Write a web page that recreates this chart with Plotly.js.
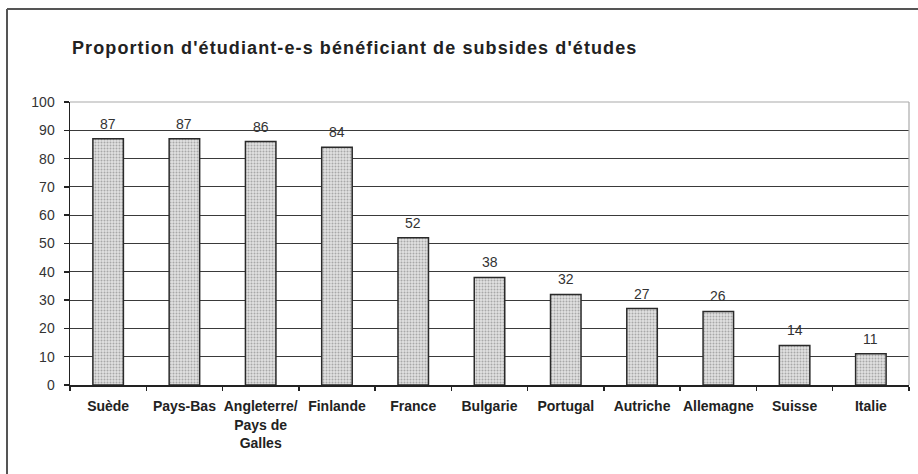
<!DOCTYPE html>
<html>
<head>
<meta charset="utf-8">
<script src="https://cdn.plot.ly/plotly-3.0.1.min.js"></script>
<style>
html,body{margin:0;padding:0;background:#fff;}
#chart{width:918px;height:474px;}
#chart .gtitle{letter-spacing:1.1px;}
</style>
</head>
<body>
<div id="chart"></div>
<script>
const categories = ["Suède","Pays-Bas","Angleterre/<br>Pays de<br>Galles","Finlande","France","Bulgarie","Portugal","Autriche","Allemagne","Suisse","Italie"];
const values = [87,87,86,84,52,38,32,27,26,14,11];
const yTicks = [0,10,20,30,40,50,60,70,80,90,100];
const titleText = "Proportion d'étudiant-e-s bénéficiant de subsides d'études";

const FONT = "Liberation Sans, Arial, sans-serif";

const trace = {
  type: "bar",
  x: categories,
  y: values,
  marker: {
    color: "#cdcdcd",
    line: {color: "#2a2a2a", width: 1.5},
    pattern: {shape: ".", bgcolor: "#e2e2e2", fgcolor: "#a8a8a8", size: 3, solidity: 0.35}
  },
  hoverinfo: "none"
};

const annotations = categories.map((c, i) => ({
  x: c, y: values[i], xref: "x", yref: "y",
  text: String(values[i]),
  showarrow: false,
  yanchor: "bottom",
  yshift: 5,
  font: {family: FONT, size: 14, color: "#333"}
}));

const layout = {
  width: 918, height: 474,
  margin: {l: 70, r: 9, t: 102, b: 89, pad: 0},
  paper_bgcolor: "#fff",
  plot_bgcolor: "#fff",
  showlegend: false,
  bargap: 0.6,
  title: {
    text: titleText,
    x: 72/918, xanchor: "left", xref: "container",
    y: 1 - 48/474, yanchor: "middle", yref: "container",
    font: {family: FONT, size: 18, color: "#222", weight: "bold"}
  },
  xaxis: {
    type: "category",
    showgrid: false,
    showline: true, linecolor: "#222", linewidth: 1.5,
    ticks: "outside", tickson: "boundaries", ticklen: 4, tickcolor: "#222", tickwidth: 1.5,
    tickfont: {family: FONT, size: 14, color: "#222", weight: "bold"},
    ticklabelstandoff: 8,
    tickangle: 0,
    fixedrange: true
  },
  yaxis: {
    range: [0, 100],
    tickvals: yTicks,
    ticktext: yTicks.map(String),
    showgrid: true, gridcolor: "#3a3a3a", gridwidth: 1,
    zeroline: false,
    showline: true, linecolor: "#222", linewidth: 1.5,
    ticks: "outside", ticklen: 5, tickcolor: "#222", tickwidth: 1.5,
    tickfont: {family: FONT, size: 14, color: "#333"},
    ticklabelstandoff: 6,
    fixedrange: true
  },
  annotations: annotations,
  shapes: [
    {type: "line", xref: "paper", yref: "paper", x0: 0, x1: 1, y0: 1, y1: 1,
     line: {color: "#aaa", width: 1.2}, layer: "above"},
    {type: "line", xref: "paper", yref: "paper", x0: 1, x1: 1, y0: 0, y1: 1,
     line: {color: "#aaa", width: 1.2}, layer: "above"},
    {type: "line", xref: "paper", yref: "paper", x0: (7-70)/839, x1: (7-70)/839, y0: 1 + (102-9)/283, y1: -1,
     line: {color: "#555", width: 2}},
    {type: "line", xref: "paper", yref: "paper", x0: (7-70)/839, x1: 1.2, y0: 1 + (102-9)/283, y1: 1 + (102-9)/283,
     line: {color: "#555", width: 2}}
  ]
};

Plotly.newPlot("chart", [trace], layout, {displayModeBar: false, staticPlot: true});
</script>
</body>
</html>
